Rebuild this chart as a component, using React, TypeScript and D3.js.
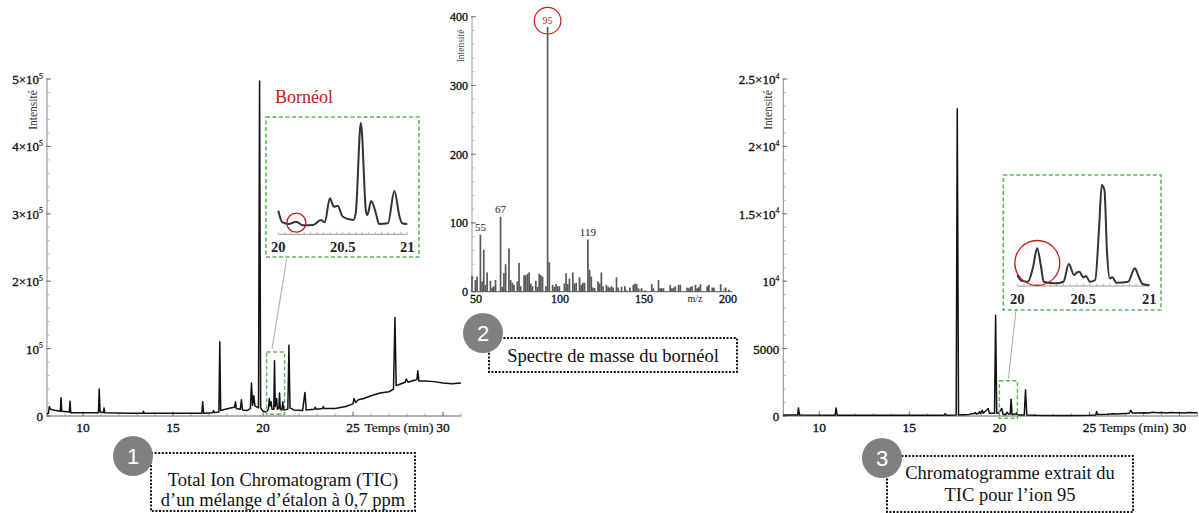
import React from "react";
import * as d3 from "d3";

// ---------- DATA ----------
// Left: Total Ion Chromatogram, [time (min), intensity in units of 10^5]
const TIC_POINTS: [number, number][] = [
  [8.0, 0.03], [8.08, 0.04], [8.13, 0.14], [8.2, 0.1], [8.5, 0.08], [8.74, 0.07], [8.78, 0.27], [8.82, 0.07],
  [9.24, 0.06], [9.28, 0.22], [9.32, 0.05], [10.86, 0.05], [10.9, 0.4], [10.95, 0.06], [11.13, 0.05], [11.17, 0.12],
  [11.21, 0.05], [12.5, 0.04], [13.33, 0.04], [13.36, 0.07], [13.4, 0.04], [16.6, 0.04], [16.65, 0.21], [16.7, 0.04],
  [17.2, 0.05], [17.25, 0.08], [17.3, 0.05], [17.55, 0.06], [17.6, 1.1], [17.65, 0.08], [17.9, 0.1], [18.2, 0.12],
  [18.42, 0.13], [18.47, 0.21], [18.52, 0.11], [18.74, 0.1], [18.8, 0.24], [18.86, 0.09], [19.1, 0.08], [19.3, 0.11],
  [19.36, 0.49], [19.42, 0.16], [19.49, 0.3], [19.55, 0.15], [19.75, 0.12], [19.81, 4.97], [19.87, 0.12], [20.0, 0.07],
  [20.2, 0.06], [20.3, 0.1], [20.35, 0.26], [20.4, 0.15], [20.45, 0.21], [20.5, 0.1], [20.6, 0.1], [20.64, 0.82],
  [20.68, 0.14], [20.76, 0.26], [20.8, 0.1], [20.88, 0.12], [20.92, 0.34], [20.96, 0.1], [21.05, 0.09], [21.1, 0.21],
  [21.15, 0.09], [21.38, 0.1], [21.44, 1.05], [21.5, 0.12], [21.7, 0.09], [22.2, 0.08], [22.33, 0.35], [22.4, 0.09],
  [22.85, 0.1], [22.9, 0.13], [22.95, 0.1], [23.3, 0.11], [23.35, 0.14], [23.4, 0.11], [24.0, 0.11], [24.6, 0.14],
  [25.0, 0.18], [25.06, 0.26], [25.15, 0.2], [25.3, 0.24], [25.6, 0.26], [26.0, 0.3], [26.5, 0.34], [27.0, 0.36],
  [27.25, 0.4], [27.33, 1.46], [27.4, 0.45], [27.6, 0.47], [27.9, 0.5], [27.96, 0.55], [28.05, 0.5], [28.4, 0.53],
  [28.55, 0.54], [28.6, 0.67], [28.66, 0.52], [29.0, 0.52], [29.5, 0.51], [30.0, 0.49], [30.5, 0.48], [31.0, 0.49],
];
// Left inset (20–21 min), intensity in units of 10^5
const TIC_ZOOM: [number, number][] = [
  [20.0, 0.173], [20.03, 0.09], [20.08, 0.076], [20.14, 0.093], [20.19, 0.066], [20.27, 0.068], [20.33, 0.105],
  [20.36, 0.088], [20.4, 0.265], [20.43, 0.203], [20.46, 0.21], [20.5, 0.129], [20.58, 0.105], [20.6, 0.154],
  [20.64, 0.82], [20.68, 0.166], [20.69, 0.142], [20.72, 0.245], [20.76, 0.142], [20.78, 0.076], [20.85, 0.081],
  [20.9, 0.318], [20.94, 0.129], [20.96, 0.081], [21.0, 0.076],
];

// Middle: mass spectrum of borneol
const MZ = [
  50, 52, 53, 55, 56, 57, 58, 59, 61, 62, 63, 64, 67, 68, 69, 70, 72, 73, 74, 75, 77, 78, 79, 81, 82, 83, 84, 85, 86,
  88, 89, 90, 91, 92, 94, 95, 96, 98, 99, 100, 101, 102, 105, 106, 107, 108, 110, 111, 112, 114, 115, 116, 117, 119,
  120, 121, 122, 123, 125, 126, 127, 128, 130, 131, 132, 133, 134, 136, 137, 139, 141, 142, 144, 146, 147, 148, 149,
  151, 153, 157, 158, 161, 162, 163, 164, 168, 169, 170, 171, 173, 174, 178, 179, 180, 181, 183, 184, 185, 186, 190,
  191, 193, 194, 198, 201, 203,
];
const MZ_INT = [
  23, 17, 22, 83, 15, 61, 10, 28, 16, 6, 8, 17, 109, 7, 27, 40, 63, 17, 13, 10, 15, 42, 8, 24, 24, 26, 28, 12, 8,
  16, 7, 26, 24, 22, 8, 385, 43, 10, 7, 11, 8, 8, 12, 27, 11, 19, 28, 12, 13, 21, 10, 13, 13, 76,
  32, 22, 6, 5, 15, 12, 28, 8, 10, 7, 6, 8, 6, 21, 6, 7, 8, 2, 6, 10, 12, 11, 5,
  5, 2, 11, 5, 17, 5, 5, 5, 10, 5, 6, 8, 10, 10, 6, 5, 7, 8, 10, 5, 7, 11, 8,
  10, 6, 6, 11, 6, 3,
];
const MZ_LABELS = [55, 67, 119];
const MZ_HIGHLIGHT = 95;

// Right: extracted ion chromatogram (m/z 95), [time (min), intensity]
const EIC_POINTS: [number, number][] = [
  [8.0, 70], [8.8, 70], [8.84, 600], [8.9, 70], [10.88, 60], [10.93, 600], [10.99, 60], [16.94, 60], [16.99, 170],
  [17.04, 60], [17.6, 70], [17.66, 22800], [17.73, 80], [18.3, 120], [18.6, 180], [18.66, 260], [18.72, 150],
  [18.85, 200], [18.9, 320], [18.95, 180], [19.05, 420], [19.1, 200], [19.38, 560], [19.44, 200], [19.6, 200],
  [19.73, 200], [19.79, 7480], [19.85, 200], [19.95, 200], [20.13, 560], [20.2, 130], [20.35, 100], [20.42, 280],
  [20.5, 150], [20.6, 150], [20.65, 1250], [20.7, 120], [20.9, 150], [20.95, 230], [21.0, 80], [21.38, 80],
  [21.45, 1950], [21.52, 80], [22.0, 50], [23.0, 40], [24.0, 40], [25.0, 60], [25.35, 80], [25.4, 330], [25.45, 120],
  [26.0, 130], [26.3, 160], [26.5, 140], [27.0, 180], [27.2, 200], [27.3, 420], [27.38, 230], [27.7, 220],
  [28.0, 250], [28.3, 230], [28.5, 270], [28.8, 240], [29.0, 260], [29.3, 230], [29.5, 260], [29.8, 240],
  [30.0, 250], [30.3, 230], [30.5, 255], [30.8, 235], [31.0, 240],
];
// Right inset (20–21 min)
const EIC_ZOOM: [number, number][] = [
  [20.0, 136], [20.03, 66], [20.08, 53], [20.12, 239], [20.15, 467], [20.18, 239], [20.2, 53], [20.29, 33],
  [20.35, 53], [20.39, 272], [20.43, 136], [20.45, 165], [20.47, 177], [20.5, 108], [20.52, 124], [20.55, 53],
  [20.59, 74], [20.62, 734], [20.64, 1250], [20.66, 1188], [20.68, 405], [20.7, 95], [20.72, 108], [20.75, 41],
  [20.84, 53], [20.89, 219], [20.92, 115], [20.95, 25], [21.0, 10],
];

const TIME_TICKS = [10, 15, 20, 25, 30];
const TIC_Y_TICKS = [0, 1, 2, 3, 4, 5];
const TIC_Y_LABELS = ["0", "10^5", "2×10^5", "3×10^5", "4×10^5", "5×10^5"];
const EIC_Y_TICKS = [0, 5000, 10000, 15000, 20000, 25000];
const EIC_Y_LABELS = ["0", "5000", "10^4", "1.5×10^4", "2×10^4", "2.5×10^4"];
const MS_X_TICKS = [50, 100, 150, 200];
const MS_Y_TICKS = [0, 100, 200, 300, 400];
const ZOOM_TICKS = [20, 20.5, 21];
const ZOOM_TICK_LABELS = ["20", "20.5", "21"];

// ---------- STYLE ----------
const SERIF = '"Liberation Serif","Times New Roman",Times,serif';
const SANS = '"Liberation Sans",Arial,Helvetica,sans-serif';
const GREEN = "#5cb85c";
const RED = "#c0201c";
const HEAVY = { stroke: "#111", strokeWidth: 0.35 };

function SupLabel({ s, x, y, size, anchor }: { s: string; x: number; y: number; size: number; anchor: string }) {
  const [b, e] = s.split("^");
  return (
    <text x={x} y={y} fontSize={size} textAnchor={anchor as any} fontFamily={SERIF} fill="#111" {...HEAVY}>
      {b}
      {e ? (
        <tspan dy={-size * 0.42} fontSize={size * 0.6} strokeWidth={0.2}>
          {e}
        </tspan>
      ) : null}
    </text>
  );
}

function Chrom({
  points, x, y, yTicks, yLabels, yMinor, labelX, intensX,
}: {
  points: [number, number][];
  x: d3.ScaleLinear<number, number>;
  y: d3.ScaleLinear<number, number>;
  yTicks: number[];
  yLabels: string[];
  yMinor: number[];
  labelX: number;
  intensX: number;
}) {
  const [x0, x1] = x.range();
  const [y0, y1] = y.range();
  const line = d3.line<[number, number]>().x((d) => x(d[0])).y((d) => y(d[1]));
  const minorX = d3.range(Math.ceil(x.domain()[0]), x.domain()[1] + 0.001, 1);
  return (
    <g>
      {/* y axis */}
      <line x1={x0} x2={x0} y1={y0} y2={y1} stroke="#8a8a8a" strokeWidth={1} />
      {yMinor.map((v, i) => (
        <line key={"ym" + i} x1={x0} x2={x0 + 2.5} y1={y(v)} y2={y(v)} stroke="#999" strokeWidth={0.8} />
      ))}
      {yTicks.map((v, i) => (
        <g key={"yt" + i}>
          <line x1={x0 - 1} x2={x0 + 4} y1={y(v)} y2={y(v)} stroke="#777" strokeWidth={1} />
          <SupLabel s={yLabels[i]} x={x0 - 4} y={y(v) + 5} size={13} anchor="end" />
        </g>
      ))}
      <text
        transform={`translate(${intensX},${y(yTicks[yTicks.length - 1]) + 31}) rotate(-90)`}
        fontSize={11.5}
        fontFamily={SERIF}
        textAnchor="middle"
        fill="#333"
      >
        Intensité
      </text>
      {/* x axis */}
      <line x1={x0} x2={x1} y1={y0} y2={y0} stroke="#666" strokeWidth={1} />
      {minorX.map((v, i) => (
        <line key={"xm" + i} x1={x(v)} x2={x(v)} y1={y0} y2={y0 - 2.5} stroke="#888" strokeWidth={0.8} />
      ))}
      {TIME_TICKS.map((v, i) => (
        <g key={"xt" + i}>
          <line x1={x(v)} x2={x(v)} y1={y0} y2={y0 - 4.5} stroke="#777" strokeWidth={1} />
          <text x={x(v)} y={y0 + 16} fontSize={13.5} fontFamily={SERIF} textAnchor="middle" fill="#111" {...HEAVY}>
            {v}
          </text>
        </g>
      ))}
      <text x={labelX} y={y0 + 16} fontSize={13.5} fontFamily={SERIF} textAnchor="middle" fill="#111" stroke="#111" strokeWidth={0.2}>
        Temps (min)
      </text>
      <path d={line(points) || ""} fill="none" stroke="#111" strokeWidth={1.5} strokeLinejoin="round" />
    </g>
  );
}

function Inset({
  points, x, y, box, circle,
}: {
  points: [number, number][];
  x: d3.ScaleLinear<number, number>;
  y: d3.ScaleLinear<number, number>;
  box: [number, number, number, number];
  circle: [number, number, number];
}) {
  const line = d3.line<[number, number]>().x((d) => x(d[0])).y((d) => y(d[1])).curve(d3.curveMonotoneX);
  const y0 = y(0);
  const minor = d3.range(20, 21.001, 0.05);
  return (
    <g>
      <rect x={box[0]} y={box[1]} width={box[2]} height={box[3]} fill="#fff" stroke={GREEN} strokeWidth={1.6} strokeDasharray="4 2.5" />
      <line x1={x(20)} x2={x(21)} y1={y0} y2={y0} stroke="#999" strokeWidth={1} />
      {minor.map((v, i) => (
        <line key={i} x1={x(v)} x2={x(v)} y1={y0} y2={y0 - 2.5} stroke="#aaa" strokeWidth={0.8} />
      ))}
      {ZOOM_TICKS.map((v, i) => (
        <text key={"l" + i} x={x(v)} y={y0 + 17.5} fontSize={14.5} fontWeight="bold" fontFamily={SERIF} textAnchor="middle" fill="#222">
          {ZOOM_TICK_LABELS[i]}
        </text>
      ))}
      <path d={line(points) || ""} fill="none" stroke="#333" strokeWidth={2} />
      <circle cx={circle[0]} cy={circle[1]} r={circle[2]} fill="none" stroke={RED} strokeWidth={1.3} />
    </g>
  );
}

function Badge({ cx, cy, n }: { cx: number; cy: number; n: string }) {
  return (
    <g>
      <circle cx={cx} cy={cy} r={20} fill="#808080" />
      <text x={cx} y={cy + 8} fontSize={22} fontFamily={SANS} textAnchor="middle" fill="#fff">
        {n}
      </text>
    </g>
  );
}

function Caption({ x, y, w, h, lines, baselines }: { x: number; y: number; w: number; h: number; lines: string[]; baselines: number[] }) {
  return (
    <g>
      <rect x={x} y={y} width={w} height={h} fill="#fff" stroke="#111" strokeWidth={2} strokeDasharray="2 1.6" />
      {lines.map((l, i) => (
        <text key={i} x={x + w / 2} y={baselines[i]} fontSize={18.5} fontFamily={SERIF} textAnchor="middle" fill="#111">
          {l}
        </text>
      ))}
    </g>
  );
}

export default function App() {
  // left TIC
  const xL = d3.scaleLinear().domain([8, 31]).range([47, 461]);
  const yL = d3.scaleLinear().domain([0, 5]).range([416, 79]);
  const xLi = d3.scaleLinear().domain([20, 21]).range([278.3, 407.3]);
  const yLi = d3.scaleLinear().domain([0, 1]).range([234.3, 98.2]);
  // right EIC
  const xR = d3.scaleLinear().domain([8, 31]).range([783.3, 1197.5]);
  const yR = d3.scaleLinear().domain([0, 25000]).range([416, 79]);
  const xRi = d3.scaleLinear().domain([20, 21]).range([1017.3, 1149.3]);
  const yRi = d3.scaleLinear().domain([0, 1250]).range([286, 185]);
  // spectrum
  const xS = d3.scaleLinear().domain([50, 205]).range([472, 732.4]);
  const yS = d3.scaleLinear().domain([0, 400]).range([291.7, 16.7]);

  const ticMinor = d3.range(0, 5.001, 0.2);
  const eicMinor = d3.range(0, 25001, 1000);
  const msMinor = d3.range(0, 401, 20);

  const hiIdx = MZ.indexOf(MZ_HIGHLIGHT);

  return (
    <svg width={1199} height={513} style={{ position: "absolute", left: 0, top: 0, background: "#fff" }}>
      <rect x={0} y={0} width={1199} height={513} fill="#fff" />

      {/* ===== LEFT: TIC ===== */}
      <Chrom points={TIC_POINTS} x={xL} y={yL} yTicks={TIC_Y_TICKS} yLabels={TIC_Y_LABELS} yMinor={ticMinor} labelX={399} intensX={37} />
      <rect x={xL(20.2)} y={yL(0.95)} width={xL(21.2) - xL(20.2)} height={yL(0.025) - yL(0.95)} fill="none" stroke={GREEN} strokeWidth={1.4} strokeDasharray="4 2.5" />
      <line x1={xL(20.5)} y1={yL(0.95) - 3} x2={286.7} y2={259} stroke="#aaa" strokeWidth={1} />
      <Inset points={TIC_ZOOM} x={xLi} y={yLi} box={[266, 117, 153, 140]} circle={[xLi(20.14), 222.7, 9.5]} />
      <text x={275} y={103} fontSize={18} fontFamily={SERIF} fill={RED}>
        Bornéol
      </text>

      {/* ===== MIDDLE: mass spectrum ===== */}
      <line x1={472} x2={472} y1={yS(0)} y2={yS(400)} stroke="#999" strokeWidth={1} />
      {msMinor.map((v, i) => (
        <line key={"msm" + i} x1={472} x2={474.5} y1={yS(v)} y2={yS(v)} stroke="#aaa" strokeWidth={0.8} />
      ))}
      {MS_Y_TICKS.map((v, i) => (
        <g key={"msy" + i}>
          <line x1={471} x2={476} y1={yS(v)} y2={yS(v)} stroke="#777" />
          <text x={468} y={yS(v) + 4.5} fontSize={12} fontFamily={SERIF} textAnchor="end" fill="#111" {...HEAVY}>
            {v}
          </text>
        </g>
      ))}
      <text transform={`translate(464,46) rotate(-90)`} fontSize={9.5} fontFamily={SERIF} textAnchor="middle" fill="#444">
        Intensité
      </text>
      {MZ.map((m, i) => (
        <rect key={"b" + i} x={xS(m) - 0.85} y={yS(MZ_INT[i])} width={1.7} height={yS(0) - yS(MZ_INT[i])} fill="#585858" />
      ))}
      <line x1={472} x2={732.4} y1={yS(0)} y2={yS(0)} stroke="#555" strokeWidth={1} />
      {MS_X_TICKS.map((v, i) => (
        <g key={"msx" + i}>
          <line x1={xS(v)} x2={xS(v)} y1={yS(0)} y2={yS(0) - 3} stroke="#777" />
          <text x={xS(v) + 4} y={yS(0) + 11} fontSize={12} fontFamily={SERIF} textAnchor="middle" fill="#111" {...HEAVY}>
            {v}
          </text>
        </g>
      ))}
      <text x={695} y={yS(0) + 10.5} fontSize={10} fontFamily={SERIF} textAnchor="middle" fill="#222">
        m/z
      </text>
      {MZ_LABELS.map((m, i) => {
        const k = MZ.indexOf(m);
        return (
          <text key={"ml" + i} x={xS(m)} y={yS(MZ_INT[k]) - 3.5} fontSize={11} fontFamily={SERIF} textAnchor="middle" fill="#222">
            {m}
          </text>
        );
      })}
      <circle cx={xS(MZ_HIGHLIGHT)} cy={yS(MZ_INT[hiIdx]) - 6.3} r={13.3} fill="none" stroke={RED} strokeWidth={1.2} />
      <text x={xS(MZ_HIGHLIGHT)} y={yS(MZ_INT[hiIdx]) - 3} fontSize={10} fontFamily={SERIF} textAnchor="middle" fill={RED}>
        {MZ_HIGHLIGHT}
      </text>

      {/* ===== RIGHT: EIC m/z 95 ===== */}
      <Chrom points={EIC_POINTS} x={xR} y={yR} yTicks={EIC_Y_TICKS} yLabels={EIC_Y_LABELS} yMinor={eicMinor} labelX={1134} intensX={771.5} />
      <rect x={xR(20)} y={yR(2620)} width={xR(21) - xR(20)} height={yR(-170) - yR(2620)} fill="none" stroke={GREEN} strokeWidth={1.4} strokeDasharray="4 2.5" />
      <line x1={xR(20.5)} y1={yR(2620) - 2.5} x2={1016} y2={310} stroke="#aaa" strokeWidth={1} />
      <Inset points={EIC_ZOOM} x={xRi} y={yRi} box={[1003.3, 175, 157.7, 135]} circle={[1037.3, 263, 22.5]} />

      {/* ===== captions ===== */}
      <Caption x={151} y={453} w={264} h={58} lines={["Total Ion Chromatogram (TIC)", "d’un mélange d’étalon à 0,7 ppm"]} baselines={[486, 506]} />
      <Badge cx={133} cy={456} n="1" />
      <Caption x={489} y={338} w={248} h={34} lines={["Spectre de masse du bornéol"]} baselines={[362]} />
      <Badge cx={483} cy={333} n="2" />
      <Caption x={887} y={456} w={246} h={56} lines={["Chromatogramme extrait du", "TIC pour l’ion 95"]} baselines={[479, 500.5]} />
      <Badge cx={882} cy={458} n="3" />
    </svg>
  );
}
